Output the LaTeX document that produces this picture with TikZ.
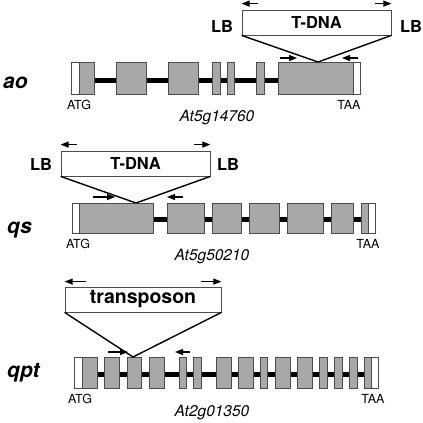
\documentclass[tikz,border=0pt]{standalone}
\usepackage{fontspec}
\setmainfont{TeX Gyre Heros}
\usetikzlibrary{arrows.meta}
\definecolor{exongray}{gray}{0.66}
\definecolor{edgegray}{gray}{0.3}
\tikzset{
  exon/.style={fill=exongray,draw=edgegray,line width=0.8pt},
  utr/.style={fill=white,draw=edgegray,line width=0.8pt},
  intron/.style={line width=5.5pt},
  insbox/.style={draw=edgegray,fill=white,line width=0.8pt,inner sep=0pt,
    font=\bfseries\fontsize{16.5}{16.5}\selectfont},
  vline/.style={line width=1.4pt},
  primer/.style={line width=1.1pt,-{Triangle[length=8pt,width=6pt]}},
  border/.style={font=\bfseries\fontsize{16.5}{16.5}\selectfont,inner sep=0pt,anchor=base},
  mutant/.style={font=\bfseries\itshape\fontsize{21}{21}\selectfont,inner sep=0pt,anchor=base west},
  codon/.style={font=\fontsize{12.5}{12.5}\selectfont,inner sep=0pt,anchor=base},
  locus/.style={font=\itshape\fontsize{15.5}{15.5}\selectfont,inner sep=0pt,anchor=base},
}
\begin{document}
\begin{tikzpicture}[x=1pt,y=-1pt]
    \useasboundingbox (0,0) rectangle (423,423);

    % ao
    \node[mutant] (ao) at (3,88) {ao};
    \draw[intron] (94,80.5) -- (278,80.5);
    \draw[utr] (71,62) rectangle (79,94);
    \foreach \a/\b in {79/94,116/146,168/198,212/220,227/234,256/264,278/353}
        \draw[exon] (\a,62) rectangle (\b,94);
    \draw[utr] (353,62) rectangle (360,94);
    \node[codon] (atg1) at (79,109) {ATG};
    \node[codon] (taa1) at (349,109) {TAA};
    \node[locus] (id1) at (217,121) {At5g14760};

    \node[insbox,minimum width=149pt,minimum height=25pt] (tdna1) at (316.5,22.5) {T-DNA};
    \node[border] (lb1l) at (222,32) {LB};
    \node[border] (lb1r) at (411,32) {LB};
    \coordinate (site1) at (318,62);
    \draw[vline] (tdna1.south west) -- (site1) -- (tdna1.south east);
    \draw[primer] ([xshift=16pt,yshift=6pt]tdna1.north west) -- ([yshift=6pt]tdna1.north west);
    \draw[primer] ([xshift=-16pt,yshift=6pt]tdna1.north east) -- ([yshift=6pt]tdna1.north east);
    \draw[primer] (280,58) -- (297,58);
    \draw[primer] (358,58) -- (342,58);

    % qs
    \node[mutant] (qs) at (7,233) {qs};
    \draw[intron] (153,219.5) -- (361,219.5);
    \draw[utr] (72,203) rectangle (79,233);
    \foreach \a/\b in {79/153,167/204,212/241,249/279,287/323,331/353,361/368}
        \draw[exon] (\a,203) rectangle (\b,233);
    \draw[utr] (368,203) rectangle (375,233);
    \node[codon] (atg2) at (78,248) {ATG};
    \node[codon] (taa2) at (368,248) {TAA};
    \node[locus] (id2) at (212,260) {At5g50210};

    \node[insbox,minimum width=149pt,minimum height=25pt] (tdna2) at (135.5,163.5) {T-DNA};
    \node[border] (lb2l) at (41,170) {LB};
    \node[border] (lb2r) at (228,170) {LB};
    \coordinate (site2) at (136,203);
    \draw[vline] (tdna2.south west) -- (site2) -- (tdna2.south east);
    \draw[primer] ([xshift=16pt,yshift=6pt]tdna2.north west) -- ([yshift=6pt]tdna2.north west);
    \draw[primer] ([xshift=-16pt,yshift=6pt]tdna2.north east) -- ([yshift=6pt]tdna2.north east);
    \draw[primer] (93,197) -- (115,197);
    \draw[primer] (183,197) -- (167,197);

    % qpt
    \node[mutant] (qpt) at (7,377) {qpt};
    \draw[intron] (97,374.5) -- (364,374.5);
    \draw[utr] (74,357) rectangle (82,388);
    \foreach \a/\b in {82/97,104/119,127/141,149/164,179/186,193/201,216/231,238/253,
                       260/267,275/290,297/312,319/327,334/342,349/357,364/371}
        \draw[exon] (\a,357) rectangle (\b,388);
    \draw[utr] (371,357) rectangle (378,388);
    \node[codon] (atg3) at (80,403) {ATG};
    \node[codon] (taa3) at (373,403) {TAA};
    \node[locus] (id3) at (212,416) {At2g01350};

    \node[insbox,minimum width=156pt,minimum height=25pt,
          font=\bfseries\fontsize{19.5}{19.5}\selectfont] (tpn) at (143,299.5) {transposon};
    \coordinate (site3) at (133,357);
    \draw[vline] (tpn.south west) -- (site3) -- (tpn.south east);
    \draw[primer] ([xshift=21pt,yshift=5pt]tpn.north west) -- ([yshift=5pt]tpn.north west);
    \draw[primer] ([xshift=-20pt,yshift=5pt]tpn.north east) -- ([yshift=5pt]tpn.north east);
    \draw[primer] (108,352) -- (128,352);
    \draw[primer] (190,352) -- (175,352);
\end{tikzpicture}
\end{document}
